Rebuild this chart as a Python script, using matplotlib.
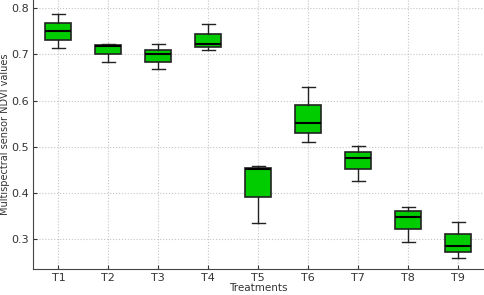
import matplotlib
matplotlib.use('Agg')
import matplotlib.pyplot as plt

# Data
treatments = ["T1", "T2", "T3", "T4", "T5", "T6", "T7", "T8", "T9"]
whis_low = [0.713, 0.683, 0.669, 0.710, 0.334, 0.510, 0.426, 0.293, 0.260]
q1 = [0.731, 0.700, 0.684, 0.717, 0.392, 0.530, 0.451, 0.321, 0.273]
medians = [0.750, 0.719, 0.702, 0.723, 0.451, 0.551, 0.475, 0.348, 0.285]
q3 = [0.769, 0.721, 0.710, 0.745, 0.453, 0.590, 0.488, 0.360, 0.310]
whis_high = [0.788, 0.723, 0.722, 0.767, 0.458, 0.630, 0.501, 0.370, 0.336]

stats = []
for i, t in enumerate(treatments):
    stats.append(dict(label=t, whislo=whis_low[i], q1=q1[i], med=medians[i],
                      q3=q3[i], whishi=whis_high[i], fliers=[]))

fig, ax = plt.subplots(figsize=(4.84, 2.95), dpi=100)
fig.subplots_adjust(left=0.068, right=0.998, top=1.0, bottom=0.088)

edge = '#222222'
ax.bxp(stats, widths=0.52, patch_artist=True, showfliers=False,
       boxprops=dict(facecolor='#00cc00', edgecolor=edge, linewidth=1.2),
       medianprops=dict(color='black', linewidth=1.5),
       whiskerprops=dict(color=edge, linewidth=1.0),
       capprops=dict(color=edge, linewidth=1.0))

ax.set_xlim(0.49, 9.5)
ax.set_ylim(0.235, 0.818)
ax.set_yticks([0.3, 0.4, 0.5, 0.6, 0.7, 0.8])
ax.set_yticklabels(['0.3', '0.4', '0.5', '0.6', '0.7', '0.8'])

ax.set_xlabel('Treatments', fontsize=7.5, color='#333333', labelpad=0)
ax.set_ylabel('Multispectral sensor NDVI values', fontsize=7, color='#333333', labelpad=1)
ax.tick_params(labelsize=8, direction='in', length=3, colors='#333333', pad=3)

ax.grid(True, linestyle=':', color='#c4c4c4', linewidth=0.8)
ax.set_axisbelow(True)
for s in ['top', 'right']:
    ax.spines[s].set_visible(False)
for s in ['left', 'bottom']:
    ax.spines[s].set_color('#444444')

plt.savefig('out.png', dpi=100)
